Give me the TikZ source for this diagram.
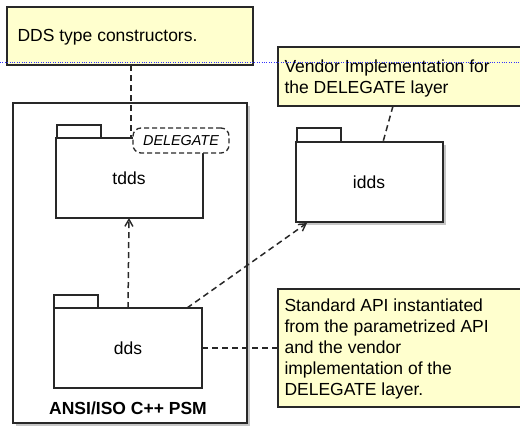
\documentclass[tikz,border=0pt]{standalone}
\usepackage{fontspec}
\setmainfont{Liberation Sans}
\usetikzlibrary{shadows,arrows.meta}
\definecolor{notefill}{RGB}{255,255,206}
\definecolor{edge}{RGB}{40,40,40}
\begin{document}
\begin{tikzpicture}[x=1pt,y=-1pt,
  txt/.style={font=\fontsize{17.5}{21}\selectfont, text=black},
  notebox/.style={draw=edge, line width=1.5pt, fill=notefill},
  pkgbody/.style={draw=edge, line width=1.4pt, fill=white},
  pkgtab/.style={draw=edge, line width=1.3pt, fill=white},
  dashline/.style={draw=edge, line width=1.5pt, dash pattern=on 6pt off 4pt},
  depend/.style={dashline, -{Straight Barb[length=7pt,width=8pt,line width=1.4pt]}},
  shad/.style={drop shadow={shadow xshift=3pt, shadow yshift=-3pt, opacity=0.45}}
]
\useasboundingbox (0,0) rectangle (520,426);
% outer package
\draw[pkgbody, shad] (13,103) rectangle (247,423);
\node[txt, font=\bfseries\fontsize{17.5}{21}\selectfont] (psm) at (128,408) {ANSI/ISO C++ PSM};
% notes
\draw[notebox] (7,7) rectangle (253,65);
\node[txt, anchor=west] (n1) at (14,37) {DDS type constructors.};
\coordinate (n1s) at (131,65);
\draw[notebox] (278,47) rectangle (524,106);
\node[txt, anchor=north west, align=left] (n2) at (281,56) {Vendor Implementation for\\the DELEGATE layer};
\coordinate (n2s) at (393,106);
\draw[notebox] (278,289) rectangle (524,407);
\node[txt, anchor=north west, align=left] (n3) at (281,295) {Standard API instantiated\\from the parametrized API\\and the vendor\\implementation of the\\DELEGATE layer.};
\coordinate (n3w) at (278,348);
% blue guide line
\draw[blue!80, line width=0.4pt, dotted] (0,62) -- (520,62);
% tdds
\draw[pkgtab] (57,125) rectangle (101,138);
\draw[pkgbody] (56,138) rectangle (203,218);
\node[txt] (tdds) at (129,178) {tdds};
\coordinate (tddsS) at (129,218);
\coordinate (tddsN) at (131,138);
\node[draw=edge, line width=1.3pt, dash pattern=on 5pt off 3pt, rounded corners=8pt, fill=white,
      minimum width=96pt, minimum height=25pt, font=\itshape\fontsize{14.4}{16}\selectfont,
      text=black] (deleg) at (181,140.5) {DELEGATE};
% dds
\draw[pkgtab] (54,295) rectangle (98,308);
\draw[pkgbody] (54,308) rectangle (202,388);
\node[txt] (dds) at (128,348) {dds};
\coordinate (ddsN) at (128,308);
\coordinate (ddsNE) at (187,308);
\coordinate (ddsE) at (202,348);
% idds
\draw[pkgtab] (297,128) rectangle (341,142);
\draw[pkgbody, shad] (296,142) rectangle (443,222);
\node[txt] (idds) at (369,182) {idds};
\coordinate (iddsN) at (383,142);
\coordinate (iddsSW) at (307,223);
% connectors
\draw[dashline] (n1s) -- (tddsN);
\draw[depend] (ddsN) -- (tddsS);
\draw[depend] (ddsNE) -- (iddsSW);
\draw[dashline] (n2s) -- (iddsN);
\draw[dashline] (ddsE) -- (n3w);
\end{tikzpicture}
\end{document}
